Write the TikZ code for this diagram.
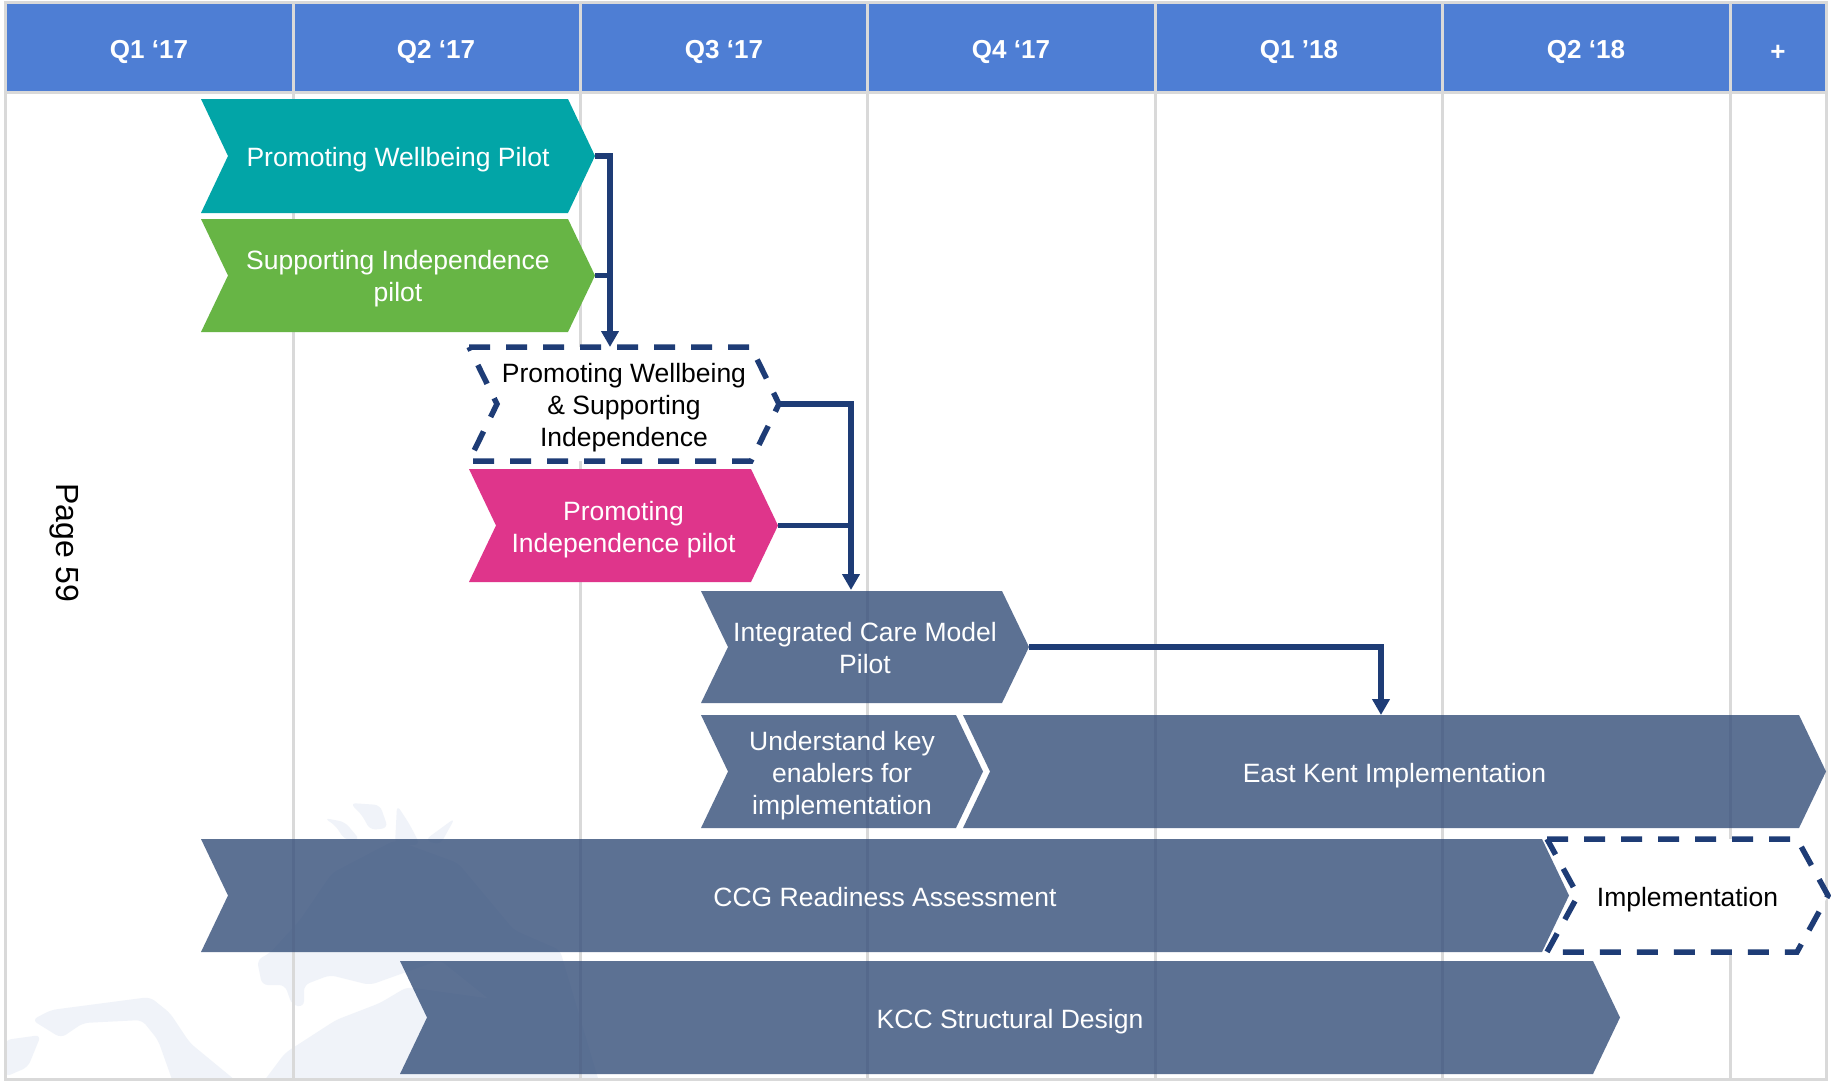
\documentclass[tikz,border=0pt]{standalone}
\usepackage{fontspec}
\setmainfont{Liberation Sans}
\usetikzlibrary{arrows.meta,calc}
\definecolor{hdrblue}{RGB}{78,126,212}
\definecolor{gridgray}{RGB}{217,217,217}
\definecolor{tealc}{RGB}{2,165,167}
\definecolor{greenc}{RGB}{103,181,69}
\definecolor{pinkc}{RGB}{223,53,139}
\definecolor{slatec}{RGB}{52,78,121}
\definecolor{navyc}{RGB}{30,60,118}
\definecolor{wmark}{RGB}{240,243,249}
\tikzset{
  x=1pt,y=-1pt,
  bodytext/.style={font=\fontsize{26.5}{32}\selectfont,align=center,inner sep=0pt},
  hdrcell/.style={fill=hdrblue,draw=gridgray,line width=3pt},
  hdrtext/.style={font=\fontsize{26}{32}\selectfont\bfseries,text=white,inner sep=0pt},
  gridline/.style={draw=gridgray,line width=3pt},
  tealshape/.style={fill=tealc},
  greenshape/.style={fill=greenc},
  pinkshape/.style={fill=pinkc},
  slateshape/.style={fill=slatec,fill opacity=.8},
  dashshape/.style={fill=white,draw=navyc,line width=5.5pt,dash pattern=on 21pt off 16pt},
  conn/.style={draw=navyc,line width=5.5pt},
  arrowconn/.style={conn,-{Triangle[width=17pt,length=16pt]}},
  wm/.style={fill=wmark,draw=none,rounded corners=6pt}
}
\newcommand{\labelshift}{3.5}
% name, left, tip, top, bottom, depth, shape style, text colour, text
\newcommand{\chevron}[9]{%
  \path[#7] (#2,#4) -- ({#3-#6},#4) -- (#3,{(#4+#5)/2}) -- ({#3-#6},#5) -- (#2,#5) -- ({#2+#6},{(#4+#5)/2}) -- cycle;
  \coordinate (#1-tip) at (#3,{(#4+#5)/2});
  \node[bodytext,text=#8] (#1) at ({(#2+#3)/2},{(#4+#5)/2+\labelshift}) {#9};
}
\begin{document}
\begin{tikzpicture}
\useasboundingbox (0,0) rectangle (1831,1081);
\fill[white] (0,0) rectangle (1831,1081);
% watermark
\begin{scope}
\clip (5,92) rectangle (1826,1079);
\path[wm] (32,1020) -- (51,1010) -- (150,997) -- (170,1013) -- (190,1043) -- (241,1085) -- (174,1085) -- (158,1040) -- (142,1020) -- (83,1023) -- (61,1038) -- cycle;
\path[wm] (5,1040) -- (41,1035) -- (28,1067) -- (5,1077) -- cycle;
\path[wm] (261,1085) -- (285,1053) -- (336,1020) -- (380,1003) -- (407,987) -- (500,1000) -- (500,1085) -- cycle;
\path[wm] (324,818) -- (345,822) -- (360,840) -- (345,840) -- (335,825) -- cycle;
\path[wm] (350,803) -- (380,805) -- (388,828) -- (370,830) -- (362,815) -- cycle;
\path[wm] (397,805) -- (410,825) -- (420,845) -- (395,845) -- cycle;
\path[wm] (425,840) -- (455,818) -- (440,845) -- cycle;
\path[wm] (257,960) -- (270,953) -- (300,920) -- (332,873) -- (395,840) -- (458,863) -- (514,930) -- (560,950) -- (600,1085) -- (500,1085) -- (490,1000) -- (440,960) -- (370,985) -- (330,975) -- (304,985) -- (304,1007) -- (292,1005) -- (285,985) -- (262,985) -- cycle;
\end{scope}
% grid
\draw[gridline] (5,92) -- (5,1079) -- (1826,1079) -- (1826,92);
\foreach \gx in {293,580,867,1155,1442,1730}
  \draw[gridline] (\gx,92) -- (\gx,1079);
% header
\foreach \hl/\hr in {5/293,293/580,580/867,867/1155,1155/1442,1442/1730,1730/1826}
  \path[hdrcell] (\hl,3) rectangle (\hr,92);
\node[hdrtext] (h1) at (149,51.5) {Q1 ‘17};
\node[hdrtext] (h2) at (436,51.5) {Q2 ‘17};
\node[hdrtext] (h3) at (724,51.5) {Q3 ‘17};
\node[hdrtext] (h4) at (1011,51.5) {Q4 ‘17};
\node[hdrtext] (h5) at (1299,51.5) {Q1 ’18};
\node[hdrtext] (h6) at (1586,51.5) {Q2 ‘18};
\node[hdrtext] (h7) at (1778,53) {+};
% side text
\node[font=\fontsize{32}{36}\selectfont,rotate=-90,inner sep=0pt] (page) at (64,543) {Page 59};
% shapes
\chevron{pw}{201}{595}{99}{213}{27}{tealshape}{white}{Promoting Wellbeing Pilot}
\chevron{si}{201}{595}{219}{332}{27}{greenshape}{white}{Supporting Independence\\pilot}
\chevron{pwsi}{469}{779}{347}{461}{28}{dashshape}{black}{Promoting Wellbeing\\\& Supporting\\Independence}
\renewcommand{\labelshift}{4.5}
\chevron{pi}{469}{778}{469}{582}{27}{pinkshape}{white}{Promoting\\Independence pilot}
\renewcommand{\labelshift}{1.5}
\chevron{icm}{701}{1029}{591}{703}{27}{slateshape}{white}{Integrated Care Model\\Pilot}
\renewcommand{\labelshift}{4.5}
\chevron{uke}{701}{983}{715}{828}{27}{slateshape}{white}{Understand key\\enablers for\\implementation}
\chevron{eki}{963}{1826}{715}{828}{27}{slateshape}{white}{East Kent Implementation}
\renewcommand{\labelshift}{1.5}
\chevron{ccg}{201}{1569}{839}{952}{27}{slateshape}{white}{CCG Readiness Assessment}
\renewcommand{\labelshift}{4.5}
\chevron{impl}{1547}{1828}{839}{952}{31}{dashshape}{black}{Implementation}
\chevron{kcc}{400}{1620}{961}{1074}{27}{slateshape}{white}{KCC Structural Design}
% connector ends
\coordinate (pwsi-in) at (610,347);
\coordinate (icm-in) at (851,590);
\coordinate (eki-in) at (1381,715);
% connectors
\draw[arrowconn] (pw-tip) -| (pwsi-in);
\draw[conn] (si-tip) -- (si-tip -| pwsi-in);
\draw[arrowconn] (pwsi-tip) -| (icm-in);
\draw[conn] (pi-tip) -- (pi-tip -| icm-in);
\draw[arrowconn] (icm-tip) -| (eki-in);
\end{tikzpicture}
\end{document}
